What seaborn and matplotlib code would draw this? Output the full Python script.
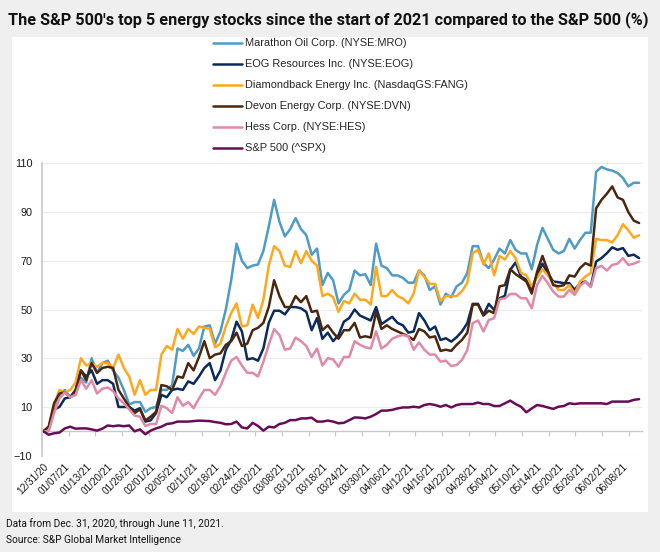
import numpy as np
import pandas as pd
import matplotlib
matplotlib.use("Agg")
import matplotlib.pyplot as plt
from matplotlib.patches import Rectangle
import seaborn as sns

# Trading days 12/31/20 .. 06/11/21 (112 sessions), value = % change since 12/31/20
n_days = 112
tick_labels = ["12/31/20", "01/07/21", "01/13/21", "01/20/21", "01/26/21", "02/01/21",
               "02/05/21", "02/11/21", "02/18/21", "02/24/21", "03/02/21", "03/08/21",
               "03/12/21", "03/18/21", "03/24/21", "03/30/21", "04/06/21", "04/12/21",
               "04/16/21", "04/22/21", "04/28/21", "05/04/21", "05/10/21", "05/14/21",
               "05/20/21", "05/26/21", "06/02/21", "06/08/21"]

mro = [0, 1.5, 10, 15, 17, 14, 15, 22, 20, 30,
       24, 28, 29, 25, 22, 17, 11, 12, 12, 8,
       9.5, 10, 17, 17, 19, 34, 33, 35.5, 31, 34,
       43, 43.5, 36, 41, 50, 62, 77, 70, 67, 68,
       68.5, 74, 84, 95, 86, 80, 83, 87.5, 83, 80.5,
       72.5, 75, 60, 65, 62, 52.5, 56, 58, 66, 64,
       64.5, 60, 77, 68, 67, 64, 64, 63, 61, 61,
       66, 64, 58, 59.5, 52, 56.5, 55, 59.5, 61, 65,
       76, 76, 69, 67, 70.5, 75, 73, 78.5, 74.5, 73,
       73, 66.5, 76.5, 83.5, 79, 74.5, 73, 74, 79, 75,
       78.5, 81.5, 81.5, 106.5, 108.5, 107.5, 107, 106, 104, 100.5,
       102, 102]

eog = [0, 1, 9, 10, 13.5, 14, 17, 25, 22.5, 25,
       19.5, 21, 21, 19.5, 10, 10, 10, 8.5, 9.5, 4,
       4.5, 7.5, 15, 14, 17, 17.5, 17, 20.5, 19.5, 22.5,
       26, 28, 21, 25, 33.5, 37.5, 45, 41, 29.5, 30,
       29, 34, 44.5, 49.5, 49.5, 48, 51, 51, 50.5, 49,
       41.5, 46.5, 38, 40.5, 37, 39.5, 45, 46.5, 50, 47.5,
       46.5, 45.5, 51, 44, 45.5, 47, 44.5, 43.5, 40.5, 41,
       48.5, 45.5, 41.5, 43, 37.5, 38.2, 36.8, 38.6, 41, 44.4,
       52.3, 52.3, 47.8, 52.3, 49.8, 54.6, 55.6, 66.3, 69.3, 63.5,
       62.2, 58.1, 64.2, 68.8, 64.9, 61.5, 61.2, 60.8, 60.8, 58.1,
       60.8, 61.5, 59.4, 69.7, 71.1, 73.1, 75.5, 74.5, 75.2, 72,
       72.5, 71.1]

fang = [0, 1.2, 11, 17, 16, 17, 20, 30, 27, 28,
        26.5, 28, 28, 26, 31.5, 26, 22.5, 15, 21, 15,
        17, 17, 31.5, 35, 33.5, 42, 38, 42, 40, 43,
        42.5, 42, 34.5, 36, 43, 48.5, 52.5, 43, 43.5, 52,
        46.5, 54, 68, 76, 74, 68, 67.5, 74, 69, 74,
        70, 68, 55.5, 56.5, 55, 49, 53.5, 52.5, 56.5, 54,
        54, 52, 67.5, 55.5, 55.5, 58, 55.5, 54.5, 52.5, 56.5,
        66, 63.5, 60.5, 60.5, 53.5, 55.5, 55.5, 55.5, 57.5, 61,
        73, 74.5, 68.5, 73, 64, 72, 70.5, 74, 71, 65,
        64, 59.5, 63, 66.5, 64, 61, 58, 58, 60, 56.5,
        61.5, 63.5, 65, 79, 78.5, 78.5, 77.5, 80.5, 85, 82.5,
        79.5, 80.5]

dvn = [0, 2, 11.5, 15.5, 16, 14, 16.5, 25, 21, 28,
       24, 26, 26.5, 26, 17, 13.5, 10, 7.5, 9, 4.5,
       6, 8, 19, 18.5, 17, 22.5, 22, 28, 25, 30.5,
       37, 30, 31.5, 32, 35.5, 37, 40.5, 35, 36, 41.5,
       42.5, 44.5, 51, 62, 55.5, 51, 51, 55.5, 53, 55.5,
       49, 49.5, 41.5, 43.5, 40.5, 38, 41.5, 41.5, 44.5, 38.5,
       39, 38.5, 49, 42, 43.5, 42, 41, 40, 39, 37.5,
       42, 41, 38.5, 39, 33, 33.5, 33, 35.5, 37.5, 40.5,
       52, 52, 47.5, 49.5, 48.5, 59.5, 60, 66.5, 64.5, 63,
       61.5, 56.5, 65.5, 72, 66, 60, 59.5, 60, 64, 63.5,
       67, 69, 68, 91.5, 95, 97.5, 100.5, 96, 95, 90,
       86.5, 85.5]

hes = [0, 0, 7.5, 13.5, 16, 14, 15, 21, 17.5, 21,
       15.5, 17.5, 18, 16.5, 13.5, 11.5, 9, 6.5, 6, 2.2,
       3, 3, 10.5, 9.5, 7.5, 14, 10.5, 12, 9.5, 13.5,
       17, 17, 15, 18.5, 24, 29, 30.5, 27, 24, 24,
       22.5, 28.5, 35.5, 42, 39.5, 33.5, 34, 38.5, 37, 35,
       30.5, 34, 27, 30, 29.5, 26.5, 30.5, 30.5, 37, 35.5,
       34.5, 34, 41, 34, 35.5, 38, 39, 39.5, 39, 33.5,
       36.5, 33.5, 31.5, 31.5, 28.6, 29, 26.8, 27.2, 29.3, 33.4,
       44.4, 45.5, 41, 45.7, 46.4, 54.2, 54.6, 56.4, 56.4, 54.6,
       54.6, 50.5, 60.1, 63.8, 60.8, 57.4, 55.3, 55.3, 58.1, 56,
       59.7, 61.5, 59.2, 67, 67.9, 66, 68.3, 68.8, 71.1, 68.3,
       68.8, 69.7]

spx = [0, -1.4, -0.8, -0.5, 1.2, 1.9, 1.1, 1.2, 1.2, 0.8,
       0.3, 1.1, 2.4, 2.1, 2.4, 2.1, 2.4, 0, 0.8, -1.2,
       0.3, 1.2, 1.9, 3, 3.3, 4, 4, 4, 4.2, 4.4,
       4.3, 4.2, 3.8, 3.5, 2.9, 3, 4, 1.6, 1.2, 3.5,
       2.2, 0.3, 1.9, 1.6, 3, 3.5, 4.6, 4.6, 5.3, 5.3,
       5.6, 4, 4, 4.4, 4, 3.3, 3.5, 4.6, 5.7, 5.6,
       5.3, 6, 7.1, 8.5, 8.5, 8.8, 9.4, 9.8, 9.8, 10.1,
       9.8, 10.8, 11.2, 10.8, 10.1, 10.8, 9.8, 10.8, 11.2, 11.2,
       11.2, 11.8, 11.2, 11.2, 10.4, 10.4, 11.5, 12.6, 11.2, 10.1,
       7.8, 9.4, 10.8, 10.4, 9.8, 9.2, 10.1, 10.4, 11.5, 11.2,
       11.5, 11.5, 11.5, 11.5, 11.5, 11.2, 12.2, 12.2, 12.2, 12.2,
       12.9, 13.2]

series_names = ["Marathon Oil Corp. (NYSE:MRO)", "EOG Resources Inc. (NYSE:EOG)",
                "Diamondback Energy Inc. (NasdaqGS:FANG)", "Devon Energy Corp. (NYSE:DVN)",
                "Hess Corp. (NYSE:HES)", "S&P 500 (^SPX)"]
series_values = [mro, eog, fang, dvn, hes, spx]
colors = ["#4e9cc6", "#0b2b5c", "#ffa81e", "#4a2810", "#e08aa6", "#670d56"]

df = pd.concat([pd.DataFrame({"day": np.arange(n_days), "value": v, "series": s})
                for s, v in zip(series_names, series_values)], ignore_index=True)

sns.set_style("white")
plt.rcParams["font.family"] = ["Liberation Sans", "DejaVu Sans"]
narrow = ["Roboto", "DejaVu Sans"]

fig = plt.figure(figsize=(6.6, 5.52), dpi=100)
fig.patch.set_facecolor("#efefef")
fig.patches.append(Rectangle((12 / 660, 1 - 512 / 552), 636 / 660, 475 / 552,
                             transform=fig.transFigure, facecolor="white",
                             edgecolor="none", zorder=-5))

ax = fig.add_axes([42 / 660, 1 - 455.7 / 552, 600 / 660, 292.4 / 552])
ax.set_zorder(2)
ax.set_facecolor("none")

sns.lineplot(data=df, x="day", y="value", hue="series", hue_order=series_names,
             palette=colors, linewidth=1.8, ax=ax)

ax.set_xlim(-0.25, 111.55)
ax.set_ylim(-10, 110)
ax.set_yticks(np.arange(-10, 111, 20))
ax.set_xticks(np.arange(0, n_days, 4))
ax.set_xticklabels(tick_labels, rotation=45, ha="right", rotation_mode="anchor",
                   fontsize=7.2, color="#1a1a1a")
ax.tick_params(axis="x", length=0, pad=4)
ax.tick_params(axis="y", length=4, color="#c8c8c8", labelsize=7.8,
               labelcolor="#1a1a1a", pad=3)
ax.set_xlabel("")
ax.set_ylabel("")
ax.grid(axis="y", color="#ececec", linewidth=0.8)
ax.grid(axis="x", visible=False)
for side in ["top", "right", "bottom"]:
    ax.spines[side].set_visible(False)
ax.spines["left"].set_color("#c8c8c8")
ax.spines["left"].set_linewidth(1.2)

# zero line with its own tick marks
zero_ax = ax.secondary_xaxis(10 / 120)
zero_ax.set_xticks(np.arange(1, 23) * 4.97 - 0.25)
zero_ax.tick_params(axis="x", length=3.5, color="#c8c8c8", labelbottom=False)
zero_ax.spines["bottom"].set_color("#c8c8c8")
zero_ax.spines["bottom"].set_linewidth(1.0)

handles, labels = ax.get_legend_handles_labels()
ax.legend(handles, labels, loc="upper left", bbox_to_anchor=(213 / 660, 1 - 38.5 / 552),
          bbox_transform=fig.transFigure, frameon=False, fontsize=7.9,
          handlelength=2.6, handletextpad=0.3, labelspacing=1.0, borderpad=0,
          borderaxespad=0)

fig.text(8 / 660, 1 - 20 / 552,
         "The S&P 500's top 5 energy stocks since the start of 2021 compared to the S&P 500 (%)",
         ha="left", va="center", fontsize=11.7, fontweight="bold",
         family=narrow, color="#111111")
fig.text(6 / 660, 1 - 524 / 552, "Data from Dec. 31, 2020, through June 11, 2021.",
         ha="left", va="center", fontsize=7.3, family=narrow, color="#111111")
fig.text(6 / 660, 1 - 540 / 552, "Source: S&P Global Market Intelligence",
         ha="left", va="center", fontsize=7.3, family=narrow, color="#111111")

fig.savefig("out.png", dpi=100, facecolor=fig.get_facecolor())
